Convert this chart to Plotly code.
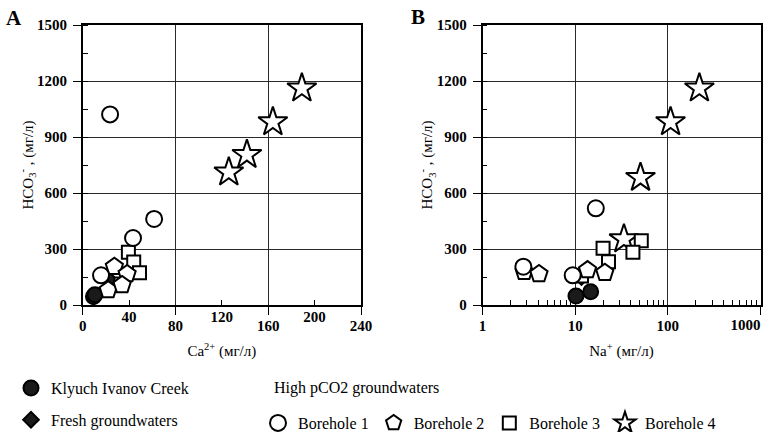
import plotly.graph_objects as go

# ---------------- Data ----------------
# Panel A: Ca2+ (mg/l) vs HCO3- (mg/l)
creek_ca = [9.3, 10.5]
creek_hco3_a = [45, 55]
fresh_ca = [23]
fresh_hco3_a = [134]
bh1_ca = [23.6, 61.6, 43.4, 15.8]
bh1_hco3_a = [1021, 461, 359, 159]
bh2_ca = [27.3, 38.3, 22, 34]
bh2_hco3_a = [205, 166, 80, 107]
bh3_ca = [39.4, 44, 49, 33]
bh3_hco3_a = [282, 230, 173, 112]
bh4_ca = [126, 141.6, 164, 189]
bh4_hco3_a = [711, 805, 980, 1161]

# Panel B: Na+ (mg/l, log) vs HCO3- (mg/l)
creek_na = [10.2, 14.7]
creek_hco3_b = [48, 71]
fresh_na = [11.7]
fresh_hco3_b = [150]
bh1_na = [16.7, 9.4, 2.76]
bh1_hco3_b = [518, 159, 205]
bh2_na = [2.81, 4.07, 13.6, 20.9]
bh2_hco3_b = [178, 166, 187, 173]
bh3_na = [20, 22.9, 51.7, 42, 11.7]
bh3_hco3_b = [304, 232, 344, 282, 155]
bh4_na = [33.6, 50.7, 107, 219]
bh4_hco3_b = [353, 682, 980, 1161]

xa_minor_labels = [40, 120, 200]
xb_ticks = [1, 10, 100, 1000]
xb_ticktext = ["1", "10", "100", ""]
xb_last_tick = [1000]
xb_last_text = ["1000"]
xb_minor = [2, 3, 4, 5, 6, 7, 8, 9, 20, 30, 40, 50, 60, 70, 80, 90,
            200, 300, 400, 500, 600, 700, 800, 900]

FONT = "Liberation Serif"
tickfont = dict(family=FONT, size=15, color="black", weight="bold")
titlefont = dict(family=FONT, size=15, color="black")

groups = [
    # name, xA, yA, xB, yB, symbol, size, fill, legend, rank
    ("Klyuch Ivanov Creek", creek_ca, creek_hco3_a, creek_na, creek_hco3_b, "circle", 15, "#1a1a1a", "legend", 1),
    ("Fresh groundwaters", fresh_ca, fresh_hco3_a, fresh_na, fresh_hco3_b, "diamond", 12, "#1a1a1a", "legend", 2),
    ("Borehole 4", bh4_ca, bh4_hco3_a, bh4_na, bh4_hco3_b, "star", 22, "white", "legend2", 6),
    ("Borehole 3", bh3_ca, bh3_hco3_a, bh3_na, bh3_hco3_b, "square", 13, "white", "legend2", 5),
    ("Borehole 2", bh2_ca, bh2_hco3_a, bh2_na, bh2_hco3_b, "pentagon", 18, "white", "legend2", 4),
    ("Borehole 1", bh1_ca, bh1_hco3_a, bh1_na, bh1_hco3_b, "circle", 16, "white", "legend2", 3),
]

fig = go.Figure()
for name, xa, ya, xb, yb, sym, size, fill, leg, rank in groups:
    mk = dict(symbol=sym, size=size, color=fill, line=dict(color="black", width=2))
    fig.add_trace(go.Scatter(x=xa, y=ya, mode="markers", name=name, marker=mk,
                             legend=leg, legendrank=rank, legendgroup=name,
                             xaxis="x", yaxis="y"))
    fig.add_trace(go.Scatter(x=xb, y=yb, mode="markers", name=name, marker=mk,
                             showlegend=False, legendgroup=name,
                             xaxis="x2", yaxis="y2"))

# empty traces hosting the overlay axes that carry extra tick labels
fig.add_trace(go.Scatter(x=[], y=[], xaxis="x3", yaxis="y", showlegend=False, hoverinfo="skip"))
fig.add_trace(go.Scatter(x=[], y=[], xaxis="x4", yaxis="y2", showlegend=False, hoverinfo="skip"))

W, H = 764, 432
dom_a = [82.7 / W, 361 / W]
dom_b = [482.5 / W, 760.5 / W]
dom_y = [1 - 305 / H, 1 - 25 / H]

line_common = dict(showline=True, linecolor="black", linewidth=1.6, mirror=True, zeroline=False)
grid_common = dict(showgrid=True, gridcolor="#2a2a2a", gridwidth=1.4)

def yaxis(anchor):
    return dict(domain=dom_y, anchor=anchor, range=[0, 1500], tickmode="linear", tick0=0, dtick=300,
                ticks="outside", ticklen=8, tickwidth=1.4, tickcolor="black",
                minor=dict(ticks="inside", ticklen=5, tickwidth=1.2, tickcolor="black",
                           tick0=0, dtick=150, showgrid=False),
                tickfont=tickfont, ticklabelstandoff=3,
                title=dict(text="HCO<sub>3</sub><sup>-</sup> , (мг/л)", font=titlefont, standoff=0),
                **line_common, **grid_common)

fig.update_layout(
    width=W, height=H,
    margin=dict(l=0, r=0, t=0, b=0, autoexpand=False),
    paper_bgcolor="white", plot_bgcolor="white",
    font=dict(family=FONT, color="black"),
    xaxis=dict(domain=dom_a, anchor="y", range=[0, 240], tickmode="linear", tick0=0, dtick=80,
               ticks="outside", ticklen=8, tickwidth=1.4, tickcolor="black",
               tickfont=tickfont, ticklabelstandoff=-2,
               title=dict(text="Ca<sup>2+</sup> (мг/л)", font=titlefont, standoff=13),
               **line_common, **grid_common),
    xaxis3=dict(overlaying="x", anchor="y", side="bottom", range=[0, 240], tickmode="array",
                tickvals=xa_minor_labels, ticks="inside", ticklen=5, tickwidth=1.2, tickcolor="black",
                tickfont=tickfont, ticklabelstandoff=1, showgrid=False, showline=False, zeroline=False),
    yaxis=yaxis("x"),
    xaxis2=dict(domain=dom_b, anchor="y2", type="log", range=[0, 3], tickmode="array", tickvals=xb_ticks,
                ticktext=xb_ticktext,
                ticks="outside", ticklen=8, tickwidth=1.4, tickcolor="black",
                minor=dict(ticks="inside", ticklen=5, tickwidth=1.2, tickcolor="black",
                           tickmode="array", tickvals=xb_minor, showgrid=False),
                tickfont=tickfont, ticklabelstandoff=-2,
                title=dict(text="Na<sup>+</sup> (мг/л)", font=titlefont, standoff=13),
                **line_common, **grid_common),
    xaxis4=dict(overlaying="x2", anchor="y2", side="bottom", type="log", range=[0, 3], tickmode="array",
                tickvals=xb_last_tick, ticktext=xb_last_text, ticklabelposition="outside left",
                ticklabeloverflow="allow", ticks="", tickfont=tickfont, ticklabelstandoff=9,
                showgrid=False, showline=False, zeroline=False),
    yaxis2=yaxis("x2"),
    legend=dict(x=11 / W, y=1 - 371 / H, xanchor="left", yanchor="top", orientation="v",
                font=dict(family=FONT, size=16, color="black"), tracegroupgap=8,
                bgcolor="rgba(0,0,0,0)", itemclick=False, itemdoubleclick=False),
    legend2=dict(x=258 / W, y=1 - 406 / H, xanchor="left", yanchor="top", orientation="h",
                 font=dict(family=FONT, size=16, color="black"),
                 bgcolor="rgba(0,0,0,0)", itemclick=False, itemdoubleclick=False),
    annotations=[
        dict(text="<b>A</b>", x=14 / W, y=1 - 18 / H, xref="paper", yref="paper", showarrow=False,
             font=dict(family=FONT, size=21, color="black"), xanchor="center", yanchor="middle"),
        dict(text="<b>B</b>", x=418 / W, y=1 - 17 / H, xref="paper", yref="paper", showarrow=False,
             font=dict(family=FONT, size=21, color="black"), xanchor="center", yanchor="middle"),
        dict(text="High pCO2 groundwaters", x=272 / W, y=1 - 388 / H, xref="paper", yref="paper",
             showarrow=False, xanchor="left", yanchor="middle",
             font=dict(family=FONT, size=16, color="black")),
    ],
    showlegend=True,
)

fig.write_html("out.html", config={"displayModeBar": False},
               post_script="document.body.style.margin='0';document.body.style.padding='0';")
